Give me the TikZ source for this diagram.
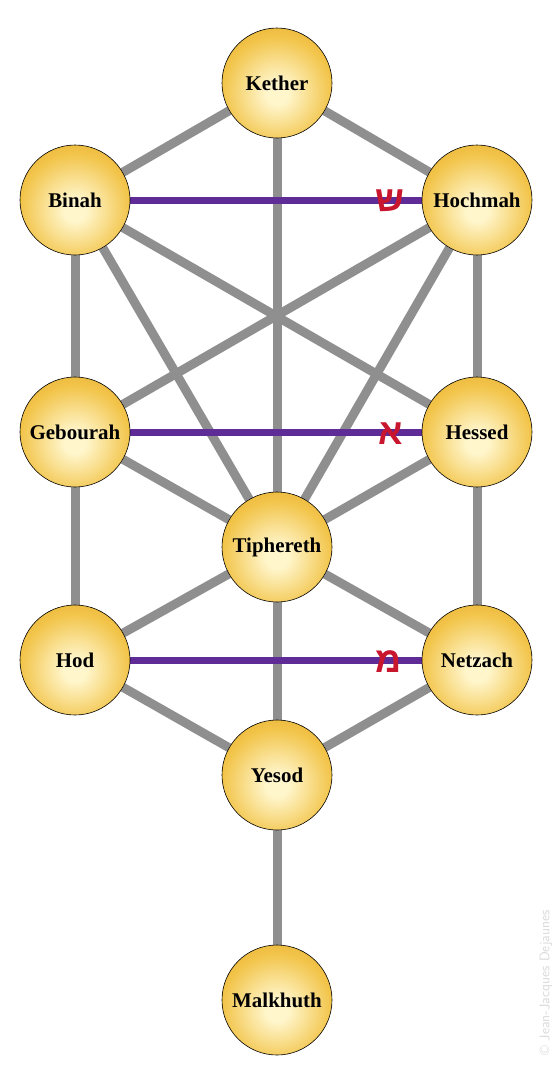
\documentclass[tikz,border=0pt]{standalone}
\usepackage{fontspec}
\usetikzlibrary{backgrounds}
\newfontfamily\hebfont[Script=Hebrew]{Liberation Sans}
\newfontfamily\sephfont{Liberation Serif}
\TeXXeTstate=1
\definecolor{pathgray}{HTML}{8F8F8F}
\definecolor{mother}{HTML}{5E2B97}
\definecolor{sunlight}{HTML}{FFF6CC}
\definecolor{goldmid}{HTML}{F2C449}
\definecolor{goldedge}{HTML}{DFA52A}
\definecolor{inkred}{HTML}{C8162E}
\definecolor{faint}{HTML}{DADADA}
\pgfdeclareradialshading{sephglow}{\pgfpoint{0bp}{-5bp}}{%
  color(0bp)=(sunlight); color(5bp)=(sunlight); color(25bp)=(goldmid);
  color(42bp)=(goldedge); color(50bp)=(goldedge); color(100bp)=(goldedge)}

\begin{document}
\begin{tikzpicture}[
  x=1bp, y=-1bp,
  sephira/.style={circle, draw=black, line width=0.6pt, shading=sephglow,
    minimum size=110bp, inner sep=0pt, font=\sephfont\bfseries\fontsize{21}{23}\selectfont},
  channel/.style={pathgray, line width=9bp},
  mothpath/.style={mother, line width=7bp},
  letter/.style={text=inkred, font=\hebfont\bfseries\fontsize{36}{38}\selectfont, inner sep=0pt},
]
\useasboundingbox (0,0) rectangle (555,1084);

% ========================================
% Sephiroth
% ========================================
\node[sephira] (kether)   at (277,83)   {Kether};
\node[sephira] (binah)    at (75,200)   {Binah};
\node[sephira] (hochmah)  at (477,200)  {Hochmah};
\node[sephira] (gebourah) at (75,432)   {Gebourah};
\node[sephira] (hessed)   at (477,432)  {Hessed};
\node[sephira] (tiphereth) at (277,547) {Tiphereth};
\node[sephira] (hod)      at (75,660)   {Hod};
\node[sephira] (netzach)  at (477,660)  {Netzach};
\node[sephira] (yesod)    at (277,775)  {Yesod};
\node[sephira] (malkhuth) at (277,1000) {Malkhuth};

% ========================================
% Paths (behind the spheres)
% ========================================
\begin{scope}[on background layer]
  \fill[white] (0,0) rectangle (555,1084);
  \draw[channel] (kether) -- (binah);
  \draw[channel] (kether) -- (hochmah);
  \draw[channel] (kether) -- (tiphereth);
  \draw[channel] (binah) -- (gebourah);
  \draw[channel] (hochmah) -- (hessed);
  \draw[channel] (binah) -- (tiphereth);
  \draw[channel] (hochmah) -- (tiphereth);
  \draw[channel] (binah) -- (hessed);
  \draw[channel] (hochmah) -- (gebourah);
  \draw[channel] (gebourah) -- (tiphereth);
  \draw[channel] (hessed) -- (tiphereth);
  \draw[channel] (gebourah) -- (hod);
  \draw[channel] (hessed) -- (netzach);
  \draw[channel] (tiphereth) -- (hod);
  \draw[channel] (tiphereth) -- (netzach);
  \draw[channel] (tiphereth) -- (yesod);
  \draw[channel] (hod) -- (yesod);
  \draw[channel] (netzach) -- (yesod);
  \draw[channel] (yesod) -- (malkhuth);
  % mother letters
  \draw[mothpath] (binah) -- (hochmah);
  \draw[mothpath] (gebourah) -- (hessed);
  \draw[mothpath] (hod) -- (netzach);
\end{scope}

% Hebrew letters
\node[letter] (shin)  at (390,201) {\beginR ש\endR};
\node[letter] (aleph) at (391,434) {\beginR א\endR};
\node[letter] (mem)   at (389,662) {\beginR מ\endR};

% Credit
\node[rotate=90, text=faint, font=\sffamily\fontsize{14}{16}\selectfont] (credit)
  at (546,983) {\textcopyright{} Jean-Jacques Dejaunes};

\end{tikzpicture}
\end{document}
